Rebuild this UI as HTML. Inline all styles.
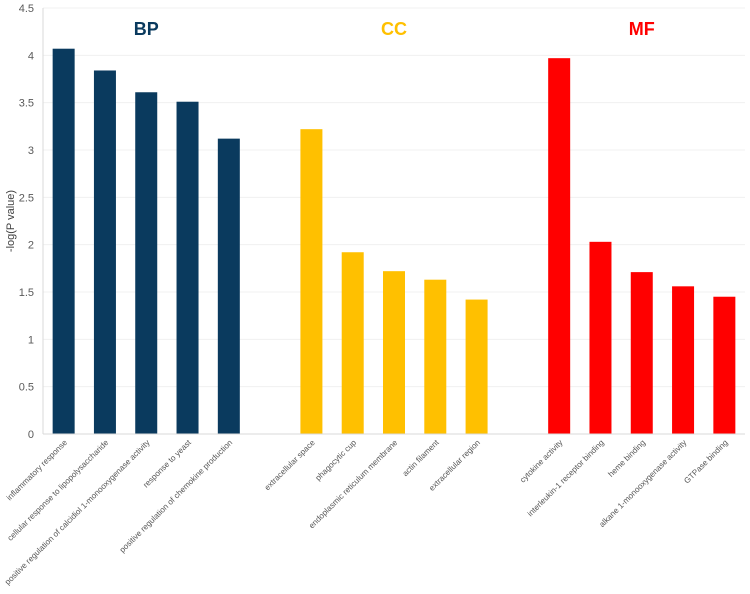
<!DOCTYPE html>
<html><head><meta charset="utf-8"><style>
body{margin:0;background:#fff;font-family:"Liberation Sans",sans-serif}
</style></head><body>
<svg id="chart" width="750" height="589" xmlns="http://www.w3.org/2000/svg"></svg>
<script>
const categories=["inflammatory response","cellular response to lipopolysaccharide","positive regulation of calcidiol 1-monooxygenase activity","response to yeast","positive regulation of chemokine production","","extracellular space","phagocytic cup","endoplasmic reticulum membrane","actin filament","extracellular region","","cytokine activity","interleukin-1 receptor binding","heme binding","alkane 1-monooxygenase activity","GTPase binding"];
const values=[4.07,3.84,3.61,3.51,3.12,null,3.22,1.92,1.72,1.63,1.42,null,3.97,2.03,1.71,1.56,1.45];
const groups=["BP","BP","BP","BP","BP","","CC","CC","CC","CC","CC","","MF","MF","MF","MF","MF"];
const groupNames=["BP","CC","MF"];
const yTicks=[0,0.5,1,1.5,2,2.5,3,3.5,4,4.5];
const colors={BP:"#0a3a5e",CC:"#ffc000",MF:"#ff0000"};
const NS="http://www.w3.org/2000/svg";
const svg=document.getElementById('chart');
const L=43,R=745,T=8,B=434,yMax=4.5;
const slot=(R-L)/categories.length;
const y=v=>B-(v/yMax)*(B-T);
const xc=i=>L+slot*(i+0.5);
function mk(t,a){const e=document.createElementNS(NS,t);for(const k in a)e.setAttribute(k,a[k]);svg.appendChild(e);return e;}
yTicks.forEach(t=>{
  if(t>0){const g=mk('line',{x1:L,x2:R,y1:y(t),y2:y(t),stroke:'#f0f0f0','stroke-width':1});
  
  }
  const tx=mk('text',{x:L-9,y:y(t)+4,'text-anchor':'end','font-size':11,fill:'#595959'});
  tx.textContent=t;
  
  
});
const ax=mk('line',{x1:L,x2:L,y1:T,y2:B,stroke:'#d9d9d9'});


const bw=22;
values.forEach((v,i)=>{
  if(v==null)return;
  const r=mk('rect',{x:xc(i)-bw/2,y:y(v),width:bw,height:B-y(v),fill:colors[groups[i]]});
  
  
});
const bl=mk('line',{x1:L,x2:R,y1:B,y2:B,stroke:'#d9d9d9'});


categories.forEach((c,i)=>{
  if(!c)return;
  const x=xc(i)+4,yy=B+9;
  const t=mk('text',{x:x,y:yy,'text-anchor':'end','font-size':8.1,fill:'#595959',transform:`rotate(-45 ${x} ${yy})`});
  t.textContent=c;
  
  
});
groupNames.forEach(g=>{
  const idx=groups.map((v,i)=>v===g?i:-1).filter(i=>i>=0);
  const cx=(xc(idx[0])+xc(idx[idx.length-1]))/2;
  const t=mk('text',{x:cx,y:35,'text-anchor':'middle','font-size':18,'font-weight':'bold',fill:colors[g]});
  t.textContent=g;
  
  
});
const yt=mk('text',{x:14,y:221,'text-anchor':'middle','font-size':11,fill:'#404040',transform:'rotate(-90 14 221)'});
yt.textContent='-log(P value)';


</script>
</body></html>
